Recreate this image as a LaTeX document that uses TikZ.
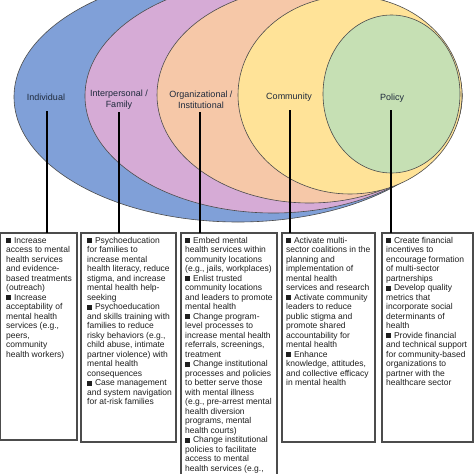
\documentclass[tikz,border=0pt]{standalone}
\usepackage{fontspec}
\setmainfont{Liberation Sans}
\definecolor{cblue}{HTML}{80A0D8}
\definecolor{cpurple}{HTML}{D6ABD6}
\definecolor{corange}{HTML}{F6C8A8}
\definecolor{cyellow}{HTML}{FFE398}
\definecolor{cgreen}{HTML}{C6E0B4}
\definecolor{lblcol}{HTML}{1F2A3C}
\newcommand{\sqb}{\rule[0.3pt]{4.6pt}{4.6pt}\hspace{3.2pt}}
\tikzset{
  ell/.style={draw=black!70, line width=0.6pt},
  conn/.style={line width=1.2pt, draw=black},
  boxf/.style={draw=black!70, line width=1.1pt, rectangle, inner sep=0pt, outer sep=0pt, anchor=north west},
  btxt/.style={anchor=north west, inner sep=0pt, align=left, font=\fontsize{8.5}{9.5}\selectfont, text=black!88},
  lbl/.style={font=\fontsize{9}{11}\selectfont, text=lblcol, align=center, inner sep=0pt}
}
\begin{document}
\begin{tikzpicture}[x=1pt,y=-1pt]
\useasboundingbox (0,0) rectangle (474,474);
\clip (0,0) rectangle (474,474);
\fill[white] (0,0) rectangle (474,474);
% ellipses
\draw[ell, fill=cblue] (238,97) ellipse [x radius=224, y radius=125];
\draw[ell, fill=cpurple] (273.5,96) ellipse [x radius=188.5, y radius=117];
\draw[ell, fill=corange] (309.5,95) ellipse [x radius=152.5, y radius=108];
\draw[ell, fill=cyellow] (350,95) ellipse [x radius=112, y radius=99];
\draw[ell, fill=cgreen] (391.5,94) ellipse [x radius=68.5, y radius=79];
% labels
\node[lbl] (l1) at (46,97) {Individual};
\node[lbl] (l2) at (119,99.5) {Interpersonal /\\Family};
\node[lbl] (l3) at (201,99.5) {Organizational /\\Institutional};
\node[lbl] (l4) at (289,97) {Community};
\node[lbl] (l5) at (392,98) {Policy};
\coordinate (c1) at (47,111);
\coordinate (c2) at (119,112);
\coordinate (c3) at (200,112);
\coordinate (c4) at (290,110);
\coordinate (c5) at (391,110);
% boxes
\node[boxf, minimum width=77pt, minimum height=207pt] (b1) at (0,233) {};
\node[boxf, minimum width=95pt, minimum height=209pt] (b2) at (81,233) {};
\node[boxf, minimum width=96pt, minimum height=260pt] (b3) at (181,233) {};
\node[boxf, minimum width=93pt, minimum height=209pt] (b4) at (282,233) {};
\node[boxf, minimum width=91pt, minimum height=209pt] (b5) at (382,233) {};
% connectors
\draw[conn] (c1) -- (c1 |- b1.north);
\draw[conn] (c2) -- (c2 |- b2.north);
\draw[conn] (c3) -- (c3 |- b3.north);
\draw[conn] (c4) -- (c4 |- b4.north);
\draw[conn] (c5) -- (c5 |- b5.north);
% texts
\node[btxt] (t1) at (6,237) {\sqb Increase\\access to mental\\health services\\and evidence-\\based treatments\\(outreach)\\\sqb Increase\\acceptability of\\mental health\\services (e.g.,\\peers,\\community\\health workers)};
\node[btxt] (t2) at (87,237) {\sqb Psychoeducation\\for families to\\increase mental\\health literacy, reduce\\stigma, and increase\\mental health help-\\seeking\\\sqb Psychoeducation\\and skills training with\\families to reduce\\risky behaviors (e.g.,\\child abuse, intimate\\partner violence) with\\mental health\\consequences\\\sqb Case management\\and system navigation\\for at-risk families};
\node[btxt] (t3) at (185,237) {\sqb Embed mental\\health services within\\community locations\\(e.g., jails, workplaces)\\\sqb Enlist trusted\\community locations\\and leaders to promote\\mental health\\\sqb Change program-\\level processes to\\increase mental health\\referrals, screenings,\\treatment\\\sqb Change institutional\\processes and policies\\to better serve those\\with mental illness\\(e.g., pre-arrest mental\\health diversion\\programs, mental\\health courts)\\\sqb Change institutional\\policies to facilitate\\access to mental\\health services (e.g.,};
\node[btxt] (t4) at (286,237) {\sqb Activate multi-\\sector coalitions in the\\planning and\\implementation of\\mental health\\services and research\\\sqb Activate community\\leaders to reduce\\public stigma and\\promote shared\\accountability for\\mental health\\\sqb Enhance\\knowledge, attitudes,\\and collective efficacy\\in mental health};
\node[btxt] (t5) at (386,237) {\sqb Create financial\\incentives to\\encourage formation\\of multi-sector\\partnerships\\\sqb Develop quality\\metrics that\\incorporate social\\determinants of\\health\\\sqb Provide financial\\and technical support\\for community-based\\organizations to\\partner with the\\healthcare sector};
\end{tikzpicture}
\end{document}
